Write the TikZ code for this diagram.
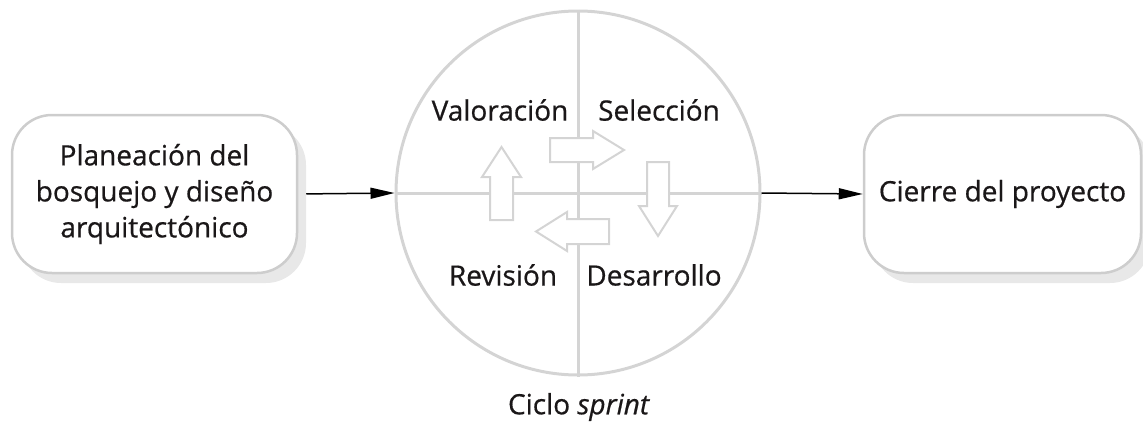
\documentclass[tikz,border=0pt]{standalone}
\usepackage{fontspec}
\setmainfont{Open Sans}[UprightFeatures={FakeBold=0.6}, ItalicFeatures={FakeBold=0.6}]
\usetikzlibrary{arrows.meta,shadows}
\definecolor{linegray}{HTML}{D4D4D4}
\definecolor{boxgray}{HTML}{CDCDCD}
\definecolor{shadowgray}{HTML}{E8E8E8}
\definecolor{txt}{HTML}{1A1718}
\tikzset{
  stagebox/.style={draw=boxgray, line width=2.5pt, fill=white, rounded corners=40pt,
    align=center, font=\fontsize{28}{36}\selectfont, text=txt,
    drop shadow={shadow xshift=9pt, shadow yshift=-10pt, fill=shadowgray, opacity=1}},
  flow/.style={line width=1.5pt, -{Triangle[length=24pt,width=11pt]}, black},
  quarter/.style={font=\fontsize{28}{32}\selectfont, text=txt},
  divider/.style={draw=linegray, line width=3pt},
  fat/.style={draw=linegray, line width=2pt, fill=white, line join=miter}
}
\begin{document}
\begin{tikzpicture}[x=1pt,y=-1pt]
\useasboundingbox (0,0) rectangle (1143,423);
% sprint cycle circle
\node[circle, draw=linegray, line width=3pt, minimum size=364pt, inner sep=0pt] (cyc) at (578,193) {};
\draw[divider] (cyc.west) -- (cyc.east);
\draw[divider] (cyc.north) -- (cyc.south);
% fat arrows
\draw[fat] (490,220) -- (513,220) -- (513,177) -- (521,177) -- (501.5,147) -- (482,177) -- (490,177) -- cycle;
\draw[fat] (550,138) -- (593,138) -- (593,131) -- (624,150) -- (593,169) -- (593,162) -- (550,162) -- cycle;
\draw[fat] (647,162) -- (669,162) -- (669,206) -- (677,206) -- (658,236) -- (639,206) -- (647,206) -- cycle;
\draw[fat] (609,219) -- (567,219) -- (567,212) -- (536,231.5) -- (567,251) -- (567,244) -- (609,244) -- cycle;
% quarter labels
\node[quarter] (val) at (500,110) {Valoración};
\node[quarter] (sel) at (659,110) {Selección};
\node[quarter] (rev) at (503,275) {Revisión};
\node[quarter] (des) at (654,275) {Desarrollo};
\node[quarter] (cic) at (579,407) {Ciclo \textit{sprint}};
% boxes
\node[stagebox, minimum width=285pt, minimum height=158pt] (plan) at (154.5,194)
  {Planeación del\\bosquejo y diseño\\arquitectónico};
\node[stagebox, minimum width=277pt, minimum height=158pt] (cierre) at (1002.5,194)
  {Cierre del proyecto};
% connectors
\draw[flow, shorten <=8pt] (plan.east) -- (cyc.west);
\draw[flow] (cyc.east) -- (cierre.west);
\end{tikzpicture}
\end{document}
